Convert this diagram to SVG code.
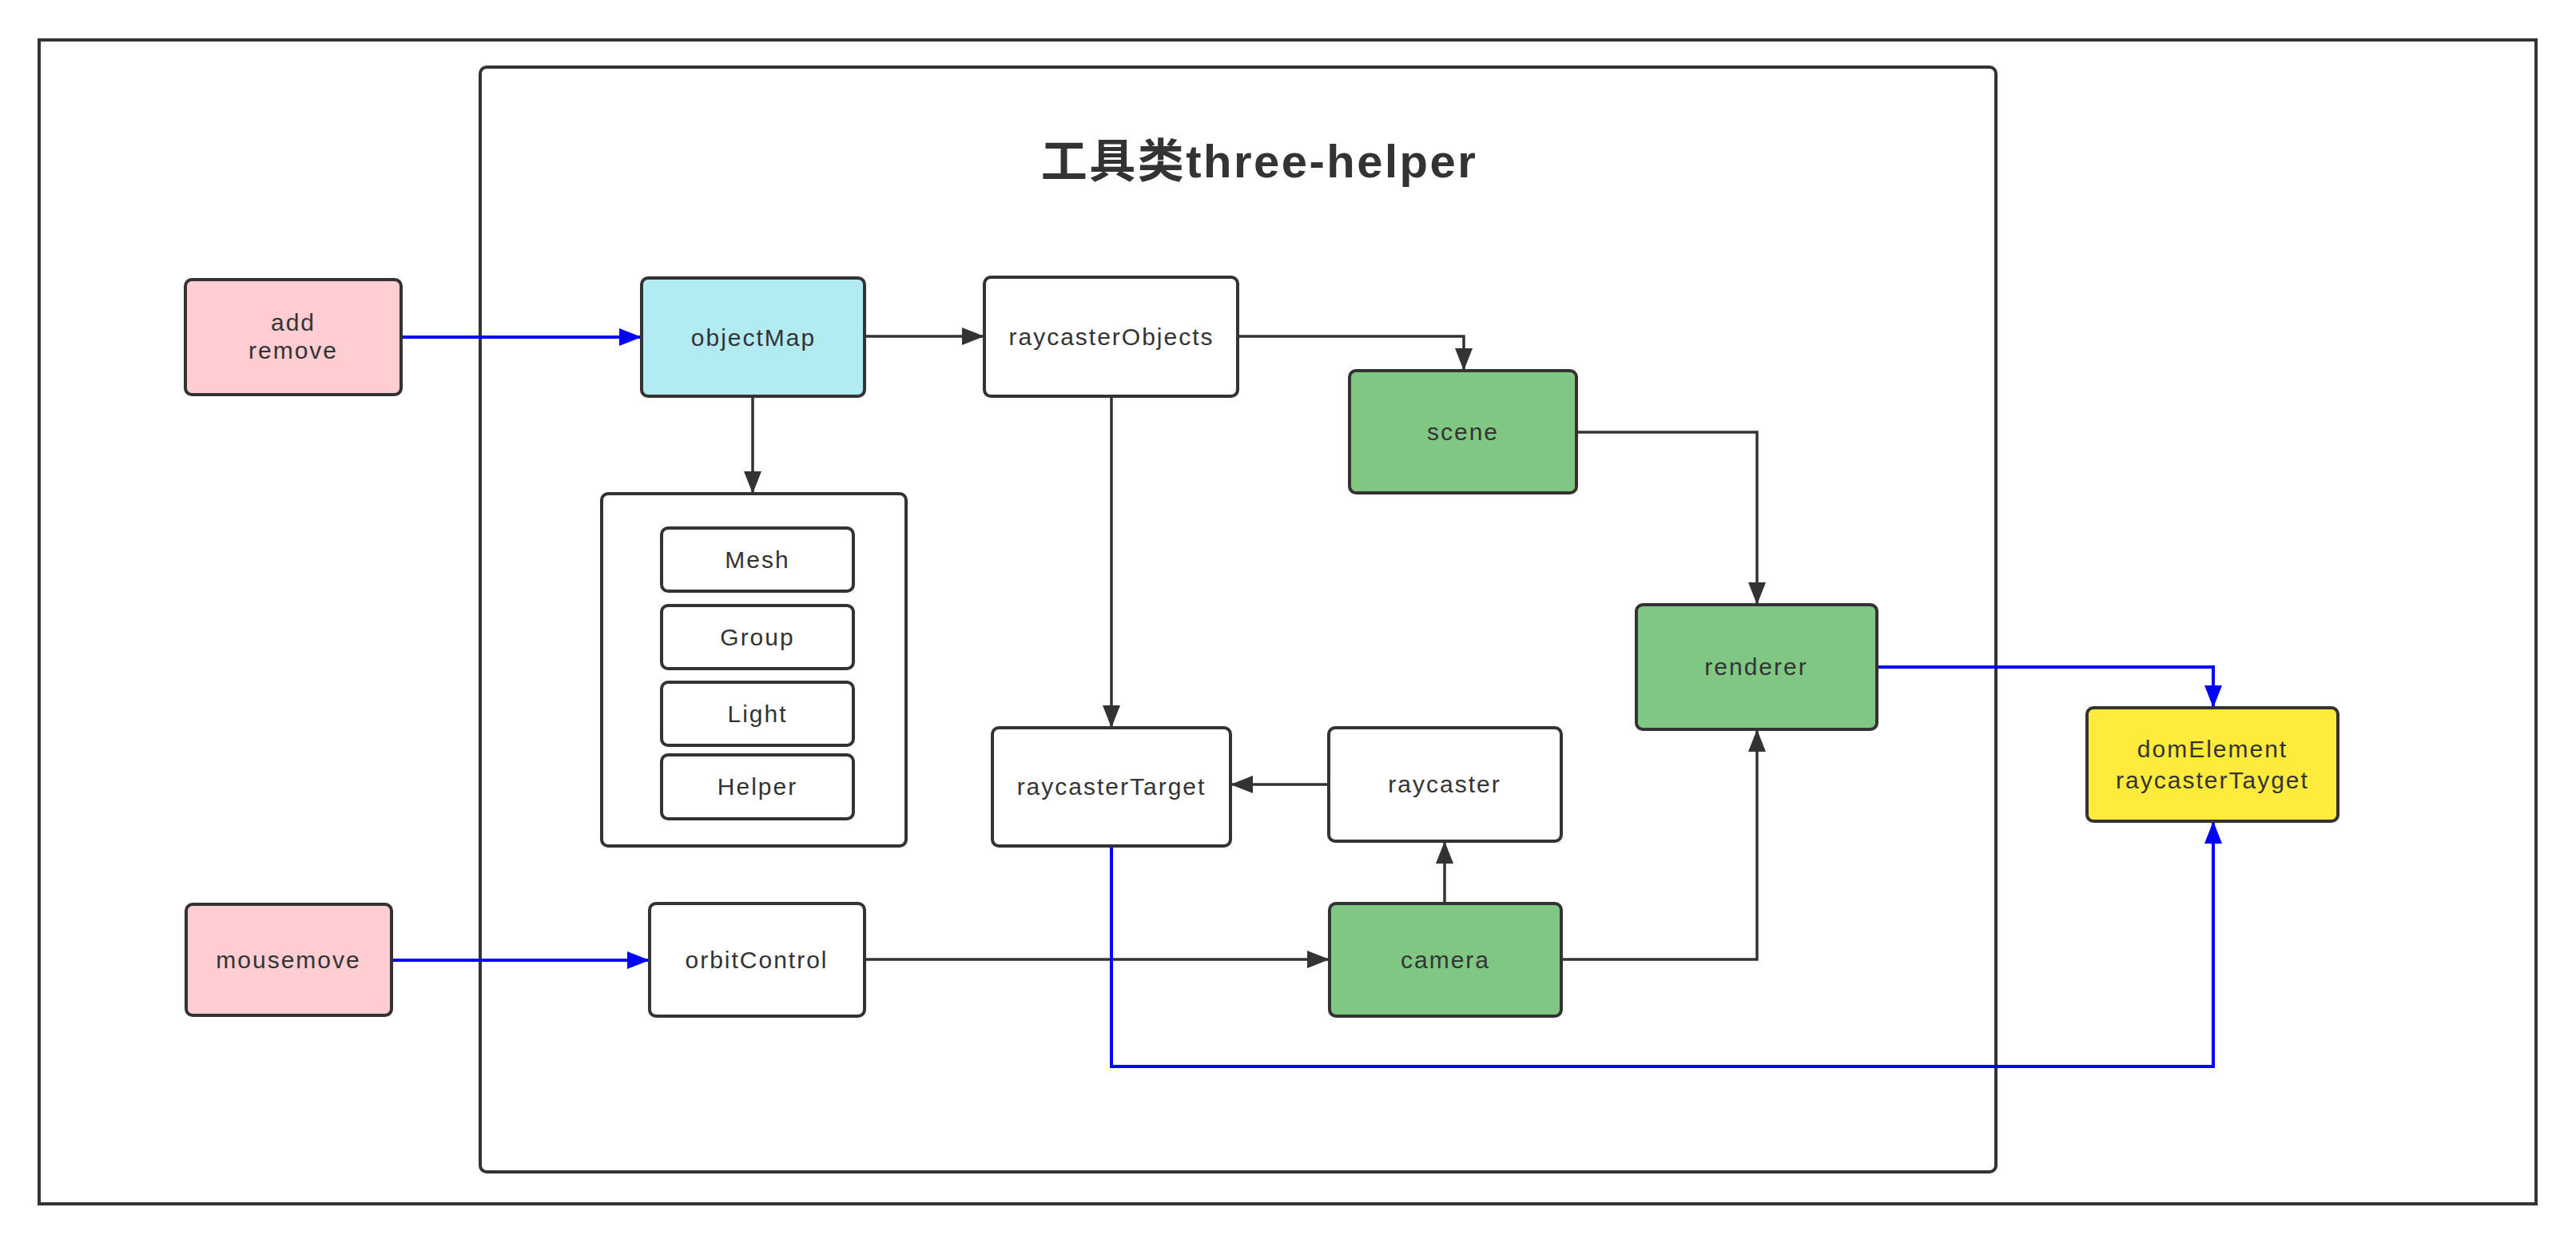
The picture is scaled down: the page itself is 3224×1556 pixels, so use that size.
<svg xmlns="http://www.w3.org/2000/svg" width="3224" height="1556" viewBox="0 0 3224 1556">
<style>
.frame{fill:none;stroke:#333;stroke-width:4}
.box{stroke:#333;stroke-width:4}
.t{font-family:"Liberation Sans",Arial,sans-serif;font-size:30px;fill:#333;text-anchor:middle;letter-spacing:2px}
.title{font-family:"Liberation Sans","Noto Sans CJK SC",sans-serif;font-size:58px;font-weight:bold;fill:#333;text-anchor:middle;letter-spacing:2.5px}
.k{fill:none;stroke:#333;stroke-width:3.5}
.b{fill:none;stroke:#0000ff;stroke-width:4}
</style>
<defs>
<marker id="ak" markerUnits="userSpaceOnUse" markerWidth="28" markerHeight="22" refX="28" refY="11" orient="auto"><path d="M0,0 L28,11 L0,22 z" fill="#333"/></marker>
<marker id="ab" markerUnits="userSpaceOnUse" markerWidth="28" markerHeight="22" refX="28" refY="11" orient="auto"><path d="M0,0 L28,11 L0,22 z" fill="#0000ff"/></marker>
</defs>
<rect width="3224" height="1556" fill="#fff"/>
<rect class="frame" x="49" y="50" width="3125" height="1457"/>
<rect class="frame" x="601" y="84" width="1897" height="1383" rx="8"/>
<text class="title" x="1576" y="222">工具类three-helper</text>
<g id="connectors">
<path class="b" d="M502,422 H803" marker-end="url(#ab)"/>
<path class="k" d="M1082,421 H1232" marker-end="url(#ak)"/>
<path class="k" d="M942,496 V618" marker-end="url(#ak)"/>
<path class="k" d="M1549,421 H1832 V464" marker-end="url(#ak)"/>
<path class="k" d="M1391,496 V911" marker-end="url(#ak)"/>
<path class="k" d="M1973,541 H2199 V757" marker-end="url(#ak)"/>
<path class="k" d="M1663,982 H1540" marker-end="url(#ak)"/>
<path class="k" d="M1808,1131 V1053" marker-end="url(#ak)"/>
<path class="k" d="M1954,1201 H2199 V913" marker-end="url(#ak)"/>
<path class="b" d="M490,1202 H813" marker-end="url(#ab)"/>
<path class="k" d="M1082,1201 H1664" marker-end="url(#ak)"/>
<path class="b" d="M2349,835 H2770 V886" marker-end="url(#ab)"/>
<path class="b" d="M1391,1059 V1335 H2770 V1028" marker-end="url(#ab)"/>
</g>
<g id="addremove"><rect class="box" x="232" y="350" width="270" height="144" rx="8" fill="#ffcdd2"/><text class="t" x="367" y="414">add</text><text class="t" x="367" y="449">remove</text></g>
<g id="objectMap"><rect class="box" x="803" y="348" width="279" height="148" rx="8" fill="#b2ebf2"/><text class="t" x="943" y="433">objectMap</text></g>
<g id="raycasterObjects"><rect class="box" x="1232" y="347" width="317" height="149" rx="8" fill="#fff"/><text class="t" x="1391" y="432">raycasterObjects</text></g>
<g id="scene"><rect class="box" x="1689" y="464" width="284" height="153" rx="8" fill="#81c784"/><text class="t" x="1831" y="551">scene</text></g>
<g id="objects"><rect class="box" x="753" y="618" width="381" height="441" rx="8" fill="#fff"/>
<g id="mesh"><rect class="box" x="828" y="661" width="240" height="79" rx="8" fill="#fff"/><text class="t" x="948" y="711">Mesh</text></g>
<g id="group"><rect class="box" x="828" y="758" width="240" height="79" rx="8" fill="#fff"/><text class="t" x="948" y="808">Group</text></g>
<g id="light"><rect class="box" x="828" y="854" width="240" height="79" rx="8" fill="#fff"/><text class="t" x="948" y="904">Light</text></g>
<g id="helper"><rect class="box" x="828" y="945" width="240" height="80" rx="8" fill="#fff"/><text class="t" x="948" y="995">Helper</text></g>
</g>
<g id="raycasterTarget"><rect class="box" x="1242" y="911" width="298" height="148" rx="8" fill="#fff"/><text class="t" x="1391" y="995">raycasterTarget</text></g>
<g id="raycaster"><rect class="box" x="1663" y="911" width="291" height="142" rx="8" fill="#fff"/><text class="t" x="1808" y="992">raycaster</text></g>
<g id="renderer"><rect class="box" x="2048" y="757" width="301" height="156" rx="8" fill="#81c784"/><text class="t" x="2198" y="845">renderer</text></g>
<g id="domElement"><rect class="box" x="2612" y="886" width="314" height="142" rx="8" fill="#ffeb3b"/><text class="t" x="2769" y="948">domElement</text><text class="t" x="2769" y="987">raycasterTayget</text></g>
<g id="mousemove"><rect class="box" x="233" y="1132" width="257" height="139" rx="8" fill="#ffcdd2"/><text class="t" x="361" y="1212">mousemove</text></g>
<g id="orbitControl"><rect class="box" x="813" y="1131" width="269" height="141" rx="8" fill="#fff"/><text class="t" x="947" y="1212">orbitControl</text></g>
<g id="camera"><rect class="box" x="1664" y="1131" width="290" height="141" rx="8" fill="#81c784"/><text class="t" x="1809" y="1212">camera</text></g>
</svg>
